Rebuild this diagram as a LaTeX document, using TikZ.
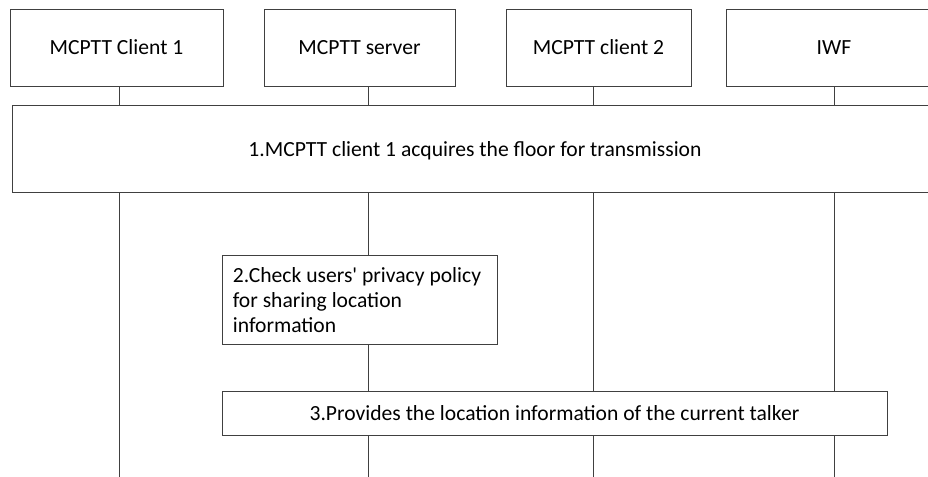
\documentclass[tikz,border=0pt]{standalone}
\usepackage{fontspec}
\setmainfont{Carlito}
\usetikzlibrary{positioning}

\begin{document}
\begin{tikzpicture}[
    x=0.75pt, y=-0.75pt,
    line width=0.75pt,
    lifeline/.style={draw=black!75},
    entity/.style={rectangle, draw=black!75, fill=white, minimum height=57.75pt, inner sep=0pt,
        text height=12.5pt, text depth=3pt, font=\fontsize{16.2}{19}\selectfont},
    stepbox/.style={rectangle, draw=black!75, fill=white, inner sep=0pt, font=\fontsize{16.2}{19}\selectfont}
]
    \useasboundingbox (0, 0) rectangle (928, 477);

    % Участники
    \node[entity, minimum width=159.75pt] (client1) at (116.5, 48.5) {MCPTT Client 1};
    \node[entity, minimum width=143.25pt] (server) at (359.5, 48.5) {MCPTT server};
    \node[entity, minimum width=138.75pt] (client2) at (598.5, 48.5) {MCPTT client 2};
    \node[entity, minimum width=162pt] (iwf) at (834, 48.5) {IWF};

    % Нижние концы линий жизни
    \coordinate (end1) at (119, 477);
    \coordinate (end2) at (368, 477);
    \coordinate (end3) at (593, 477);
    \coordinate (end4) at (834, 477);

    % Линии жизни
    \draw[lifeline] (client1.south -| end1) -- (end1);
    \draw[lifeline] (server.south -| end2) -- (end2);
    \draw[lifeline] (client2.south -| end3) -- (end3);
    \draw[lifeline] (iwf.south -| end4) -- (end4);

    % Шаги
    \node[stepbox, minimum width=694.5pt, minimum height=65.25pt, text height=13pt, text depth=2.4pt] (step1) at (475, 149.5)
        {1.MCPTT client 1 acquires the floor for transmission};
    \node[stepbox, minimum width=206.25pt, minimum height=66pt, text width=190pt, align=flush left] (step2) at (359.5, 300)
        {2.Check users\textquotesingle\ privacy policy\\for sharing location\\information};
    \node[stepbox, minimum width=498.75pt, minimum height=33pt] (step3) at (554.5, 413)
        {3.Provides the location information of the current talker};
\end{tikzpicture}
\end{document}
